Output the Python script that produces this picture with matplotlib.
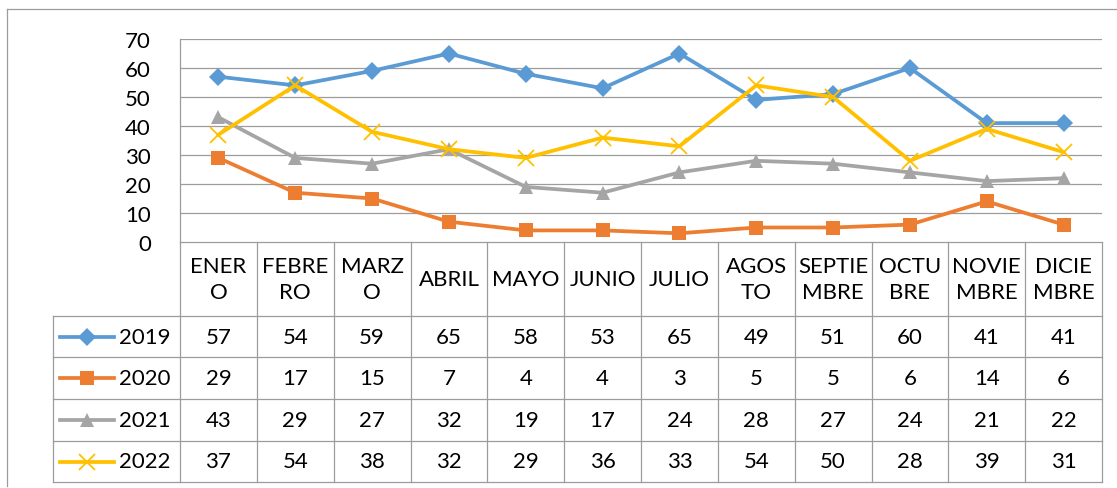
import matplotlib.pyplot as plt
from matplotlib.lines import Line2D

plt.rcParams['font.family'] = ['Lato', 'DejaVu Sans']

months = ["ENER\nO", "FEBRE\nRO", "MARZ\nO", "ABRIL", "MAYO", "JUNIO", "JULIO",
          "AGOS\nTO", "SEPTIE\nMBRE", "OCTU\nBRE", "NOVIE\nMBRE", "DICIE\nMBRE"]
years = ["2019", "2020", "2021", "2022"]
v2019 = [57, 54, 59, 65, 58, 53, 65, 49, 51, 60, 41, 41]
v2020 = [29, 17, 15, 7, 4, 4, 3, 5, 5, 6, 14, 6]
v2021 = [43, 29, 27, 32, 19, 17, 24, 28, 27, 24, 21, 22]
v2022 = [37, 54, 38, 32, 29, 36, 33, 54, 50, 28, 39, 31]
yticks = [0, 10, 20, 30, 40, 50, 60, 70]

series = [v2019, v2020, v2021, v2022]
colors = ["#5B9BD5", "#ED7D31", "#A5A5A5", "#FFC000"]
markers = ["D", "s", "^", "x"]
msizes = [9.5, 10.5, 10.5, 11]

W, H = 1117, 489
fig = plt.figure(figsize=(W / 100, H / 100), dpi=100)

def fx(px):
    return px / W

def fy(py):
    return 1 - py / H

grid_c = "#9C9C9C"
fs = 16

# outer chart border
fig.add_artist(Line2D([fx(7), fx(7)], [fy(10), fy(487)], color=grid_c, lw=0.9))
fig.add_artist(Line2D([fx(7), fx(1117)], [fy(10), fy(10)], color=grid_c, lw=0.9))

# plot area
left, right, top, bottom = 180, 1102, 40, 243
ax = fig.add_axes([fx(left), fy(bottom), fx(right - left), fy(top) - fy(bottom)])
ax.set_xlim(-0.5, len(months) - 0.5)
ax.set_ylim(0, 70)
for s in ["top", "right", "bottom"]:
    ax.spines[s].set_visible(False)
ax.spines["left"].set_color(grid_c)
ax.spines["left"].set_linewidth(0.9)
ax.set_yticks(yticks)
ax.set_yticklabels([str(t) for t in yticks], fontsize=fs)
ax.tick_params(axis="y", length=0, pad=21)
ax.set_xticks([])
for t in yticks[1:]:
    ax.axhline(t, color=grid_c, lw=0.9, zorder=1)

xs = list(range(len(months)))
for vals, c, m, ms in zip(series, colors, markers, msizes):
    ax.plot(xs, vals, color=c, lw=2.7, marker=m, ms=ms,
            mew=1.3 if m == "x" else 0, mec=c, zorder=3, clip_on=False)

# data table
col_w = (right - left) / len(months)
rows_y = [243, 317, 358, 400, 442, 483]
leg_left = 53
tc = "#9C9C9C"
# horizontal lines
fig.add_artist(Line2D([fx(left), fx(right)], [fy(rows_y[0])] * 2, color=tc, lw=0.9))
for ry in rows_y[1:]:
    fig.add_artist(Line2D([fx(leg_left), fx(right)], [fy(ry)] * 2, color=tc, lw=0.9))
# vertical lines
for i in range(len(months) + 1):
    x = left + i * col_w
    fig.add_artist(Line2D([fx(x), fx(x)], [fy(rows_y[0]), fy(rows_y[-1])], color=tc, lw=0.9))
fig.add_artist(Line2D([fx(leg_left), fx(leg_left)], [fy(rows_y[1]), fy(rows_y[-1])], color=tc, lw=0.9))

# header text
for i, mth in enumerate(months):
    cx = left + (i + 0.5) * col_w
    fig.text(fx(cx), fy((rows_y[0] + rows_y[1]) / 2), mth, ha="center", va="center",
             fontsize=fs, linespacing=1.35)

# rows
for r, (yr, vals, c, m, ms) in enumerate(zip(years, series, colors, markers, msizes)):
    cy = (rows_y[r + 1] + rows_y[r + 2]) / 2
    fig.add_artist(Line2D([fx(60), fx(114)], [fy(cy)] * 2, color=c, lw=2.7))
    fig.add_artist(Line2D([fx(87)], [fy(cy)], color=c, marker=m, ms=ms,
                          mew=1.3 if m == "x" else 0, mec=c))
    fig.text(fx(145), fy(cy), yr, ha="center", va="center", fontsize=fs)
    for i, v in enumerate(vals):
        cx = left + (i + 0.5) * col_w
        fig.text(fx(cx), fy(cy), str(v), ha="center", va="center", fontsize=fs)

fig.savefig("out.png", dpi=100)
